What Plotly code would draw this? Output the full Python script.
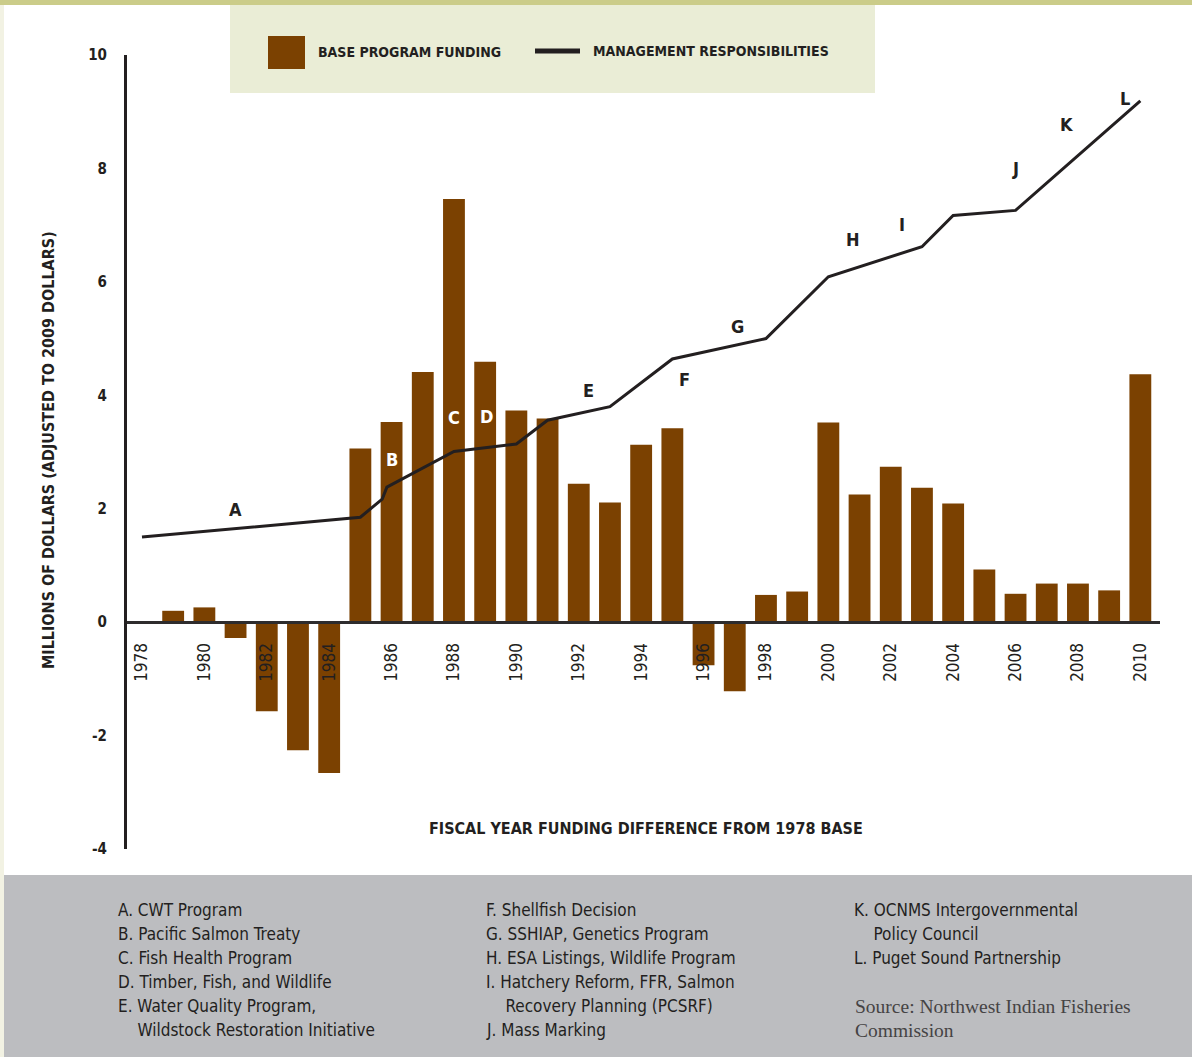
import plotly.graph_objects as go

BROWN = "#7B4101"
INK = "#231F20"
FONT = "Liberation Sans Narrow, DejaVu Sans Condensed, Arial Narrow, sans-serif"
SERIF = "Liberation Serif, DejaVu Serif, serif"

# ---------------------------------------------------------------- data
years = list(range(1978, 2011))
funding = [0, 0.20, 0.26, -0.28, -1.57, -2.26, -2.66, 3.06, 3.53, 4.41,
           7.46, 4.59, 3.73, 3.59, 2.44, 2.11, 3.13, 3.42, -0.76, -1.22,
           0.48, 0.54, 3.52, 2.25, 2.74, 2.37, 2.09, 0.93, 0.50, 0.68,
           0.68, 0.56, 4.37]

resp_years = [1978, 1985, 1985.7, 1985.85, 1988, 1990, 1991, 1993, 1995,
              1998, 2000, 2003, 2004, 2006, 2010]
resp_values = [1.50, 1.85, 2.17, 2.38, 3.01, 3.14, 3.56, 3.80, 4.64,
               5.00, 6.09, 6.62, 7.17, 7.26, 9.19]

milestones = ["A", "B", "C", "D", "E", "F", "G", "H", "I", "J", "K", "L"]
milestone_x = [1981.0, 1986.0, 1988.0, 1989.05, 1992.3, 1995.4, 1997.1,
               2000.8, 2002.35, 2006.0, 2007.65, 2009.5]
milestone_y = [1.98, 2.87, 3.60, 3.63, 4.09, 4.28, 5.21, 6.74, 7.02, 8.00,
               8.78, 9.23]

tick_years = list(range(1978, 2011, 2))
y_ticks = list(range(-4, 11, 2))

notes_col1 = ["A. CWT Program", "B. Pacific Salmon Treaty", "C. Fish Health Program",
              "D. Timber, Fish, and Wildlife", "E. Water Quality Program,",
              "   Wildstock Restoration Initiative"]
notes_col2 = ["F. Shellfish Decision", "G. SSHIAP, Genetics Program",
              "H. ESA Listings, Wildlife Program", "I. Hatchery Reform, FFR, Salmon",
              "   Recovery Planning (PCSRF)", "J. Mass Marking"]
notes_col3 = ["K. OCNMS Intergovernmental", "   Policy Council",
              "L. Puget Sound Partnership"]
source_lines = ["Source: Northwest Indian Fisheries", "Commission"]

# ---------------------------------------------------------------- geometry
W, H = 1192, 1057
L, R, T, B = 127, 1160, 55, 849


def px(x):
    return (x - L) / (R - L)


def py(y):
    return (B - y) / (B - T)


fig = go.Figure()
fig.add_trace(go.Bar(x=years, y=funding, marker_color=BROWN, marker_line_width=0,
                     name="BASE PROGRAM FUNDING", showlegend=False))
fig.add_trace(go.Scatter(x=resp_years, y=resp_values, mode="lines",
                         line=dict(color=INK, width=3),
                         name="MANAGEMENT RESPONSIBILITIES", showlegend=False))

fig.update_layout(
    width=W, height=H,
    margin=dict(l=L, r=W - R, t=T, b=H - B),
    paper_bgcolor="#FFFFFF", plot_bgcolor="rgba(0,0,0,0)",
    bargap=0.3,
    font=dict(family=FONT, color=INK),
)
fig.update_xaxes(
    range=[1977.52, 2010.63], tickvals=tick_years, ticktext=[str(y) for y in tick_years],
    tickangle=-90, tickfont=dict(size=17, color=INK), showgrid=False, zeroline=False,
    showline=True, linecolor="#2E2C2D", linewidth=3, ticks="",
    anchor="free", position=4 / 14, ticklabelstandoff=12,
)
fig.update_yaxes(
    range=[-4, 10], tickvals=y_ticks, ticktext=[str(v) for v in y_ticks],
    tickfont=dict(size=15, color=INK, weight="bold"), showgrid=False, zeroline=False,
    showline=True, linecolor=INK, linewidth=3, ticks="", ticklabelstandoff=14,
)

shapes = [
    dict(type="rect", xref="paper", yref="paper", x0=px(0), x1=px(W), y0=py(5), y1=py(0),
         fillcolor="#CBCC89", line_width=0, layer="below"),
    dict(type="rect", xref="paper", yref="paper", x0=px(0), x1=px(4), y0=py(H), y1=py(5),
         fillcolor="#F2F2E3", line_width=0, layer="below"),
    dict(type="rect", xref="paper", yref="paper", x0=px(230), x1=px(875), y0=py(93), y1=py(5),
         fillcolor="#EAEDD6", line_width=0, layer="below"),
    dict(type="rect", xref="paper", yref="paper", x0=px(268), x1=px(305), y0=py(69), y1=py(36),
         fillcolor=BROWN, line_width=0),
    dict(type="line", xref="paper", yref="paper", x0=px(535), x1=px(580), y0=py(51), y1=py(51),
         line=dict(color=INK, width=5)),
    dict(type="rect", xref="paper", yref="paper", x0=px(4), x1=px(W), y0=py(H), y1=py(875),
         fillcolor="#BCBDC0", line_width=0, layer="below"),
]

ann = []


def text(x, y, s, size=16, color=INK, family=FONT, xanchor="left", angle=0, weight="normal"):
    ann.append(dict(x=px(x), y=py(y), xref="paper", yref="paper", text=s, showarrow=False,
                    xanchor=xanchor, yanchor="middle", textangle=angle,
                    font=dict(family=family, size=size, color=color, weight=weight)))


text(316, 52, "BASE PROGRAM FUNDING", size=14, weight="bold")
text(591, 51, "MANAGEMENT RESPONSIBILITIES", size=14, weight="bold")
text(48, 450, "MILLIONS OF DOLLARS (ADJUSTED TO 2009 DOLLARS)", size=16, xanchor="center",
     angle=-90, weight="bold")
text(646, 828, "FISCAL YEAR FUNDING DIFFERENCE FROM 1978 BASE", size=16, xanchor="center",
     weight="bold")

for i, s in enumerate(notes_col1):
    text(116, 910 + 24 * i, s.replace("   ", "&nbsp;&nbsp;&nbsp;&nbsp;"), size=17)
for i, s in enumerate(notes_col2):
    text(484, 910 + 24 * i, s.replace("   ", "&nbsp;&nbsp;&nbsp;&nbsp;"), size=17)
for i, s in enumerate(notes_col3):
    text(852, 910 + 24 * i, s.replace("   ", "&nbsp;&nbsp;&nbsp;&nbsp;"), size=17)
for i, s in enumerate(source_lines):
    text(853, 1006 + 24 * i, s, size=19.5, family=SERIF, color="#454344")

for i, m in enumerate(milestones):
    ann.append(dict(x=milestone_x[i], y=milestone_y[i], xref="x", yref="y", text=m,
                    showarrow=False, xanchor="center", yanchor="middle",
                    font=dict(family=FONT, size=18, weight="bold",
                              color="#FFFFFF" if m in "BCD" else INK)))

fig.update_layout(shapes=shapes, annotations=ann)

fig.write_html("out.html", config={"displayModeBar": False},
               post_script="document.body.style.margin='0';")
